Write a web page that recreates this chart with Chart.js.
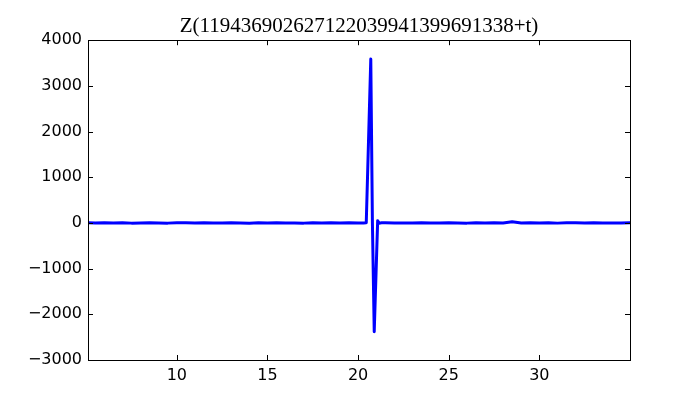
<!DOCTYPE html>
<html>
<head>
<meta charset="utf-8">
<script src="https://cdn.jsdelivr.net/npm/chart.js@4/dist/chart.umd.min.js"></script>
<style>
  html, body { margin: 0; padding: 0; background: #fff; }
</style>
</head>
<body>
<canvas id="chart" width="700" height="400"></canvas>
<script>
'use strict';
// data
var titleText = 'Z(119436902627122039941399691338+t)';
var tValues = [5.1, 5.5, 6, 6.5, 7, 7.5, 8, 8.5, 9, 9.5, 10, 10.5, 11, 11.5, 12, 12.5, 13, 13.5, 14, 14.5, 15, 15.5, 16, 16.5, 17, 17.5, 18, 18.5, 19, 19.5, 20,
  20.3, 20.45, 20.7, 20.79, 20.89, 21.08, 21.15, 21.3,
  21.5, 22, 22.5, 23, 23.5, 24, 24.5, 25, 25.5, 26, 26.5, 27, 27.5, 28, 28.5, 29, 29.5, 30, 30.5, 31, 31.5, 32, 32.5, 33, 33.5, 34, 34.5, 35];
var zValues = [2, -3, 4, -2, 3, -4, 1, 3, -2, -4, 2, 3, -3, 4, -1, -3, 2, 1, -5, 3, -2, 4, -3, 1, -4, 2, -2, 3, -3, 2, -1,
  -2, 4, 3586, 0, -2380, 50, -6, 3,
  2, -3, 1, -2, 4, -3, 1, 4, -2, -4, 3, -1, 2, -3, 25, -3, 3, -2, 2, -4, 2, 4, -2, 3, -3, 1, -2, 2];
var xTicks = [10, 15, 20, 25, 30];
var yTicks = [-3000, -2000, -1000, 0, 1000, 2000, 3000, 4000];

var points = [];
for (var i = 0; i < tValues.length; i++) {
  points.push({ x: tValues[i], y: zValues[i] });
}

// frame with inward ticks on all four sides, like the classic style
var frameTicks = {
  id: 'frameTicks',
  afterDatasetsDraw: function (chart) {
    var ctx = chart.ctx;
    var a = chart.chartArea;
    var xs = chart.scales.x;
    var ys = chart.scales.y;
    var len = 5;
    ctx.save();
    ctx.strokeStyle = '#000';
    ctx.lineWidth = 1;
    ctx.beginPath();
    xTicks.forEach(function (v) {
      var px = Math.round(xs.getPixelForValue(v)) + 0.5;
      ctx.moveTo(px, a.bottom); ctx.lineTo(px, a.bottom - len);
      ctx.moveTo(px, a.top); ctx.lineTo(px, a.top + len);
    });
    yTicks.forEach(function (v) {
      var py = Math.round(ys.getPixelForValue(v)) + 0.5;
      ctx.moveTo(a.left, py); ctx.lineTo(a.left + len, py);
      ctx.moveTo(a.right, py); ctx.lineTo(a.right - len, py);
    });
    ctx.stroke();
    ctx.strokeRect(Math.round(a.left) + 0.5, Math.round(a.top) + 0.5, Math.round(a.right - a.left), Math.round(a.bottom - a.top));
    ctx.restore();
  }
};

var ctx = document.getElementById('chart').getContext('2d');
var chart = new Chart(ctx, {
  type: 'line',
  data: {
    datasets: [{
      data: points,
      borderColor: '#0000ff',
      borderWidth: 3,
      borderJoinStyle: 'round',
      borderCapStyle: 'round',
      pointRadius: 0,
      tension: 0,
      fill: false
    }]
  },
  options: {
    responsive: false,
    animation: false,
    layout: { padding: { left: 0, right: 70, top: 0, bottom: 0 } },
    plugins: {
      legend: { display: false },
      tooltip: { enabled: false },
      title: {
        display: true,
        text: titleText,
        fullSize: false,
        color: '#000',
        font: { family: 'Liberation Serif', size: 21, weight: 'normal' },
        padding: { top: 14, bottom: 1 }
      }
    },
    scales: {
      x: {
        type: 'linear',
        min: 5.1,
        max: 35,
        grid: { display: false, drawTicks: false },
        border: { display: false },
        afterBuildTicks: function (scale) {
          scale.ticks = xTicks.map(function (v) { return { value: v }; });
        },
        afterFit: function (scale) { scale.height = 40; },
        ticks: {
          color: '#000',
          padding: 6,
          maxRotation: 0,
          font: { family: 'DejaVu Sans', size: 16 }
        }
      },
      y: {
        type: 'linear',
        min: -3000,
        max: 4000,
        grid: { display: false, drawTicks: false },
        border: { display: false },
        afterBuildTicks: function (scale) {
          scale.ticks = yTicks.map(function (v) { return { value: v }; });
        },
        afterFit: function (scale) { scale.width = 88; },
        ticks: {
          color: '#000',
          padding: 6,
          font: { family: 'DejaVu Sans', size: 16 },
          callback: function (v) { return v < 0 ? '\u2212' + Math.abs(v) : String(v); }
        }
      }
    }
  },
  plugins: [frameTicks]
});
</script>
</body>
</html>
